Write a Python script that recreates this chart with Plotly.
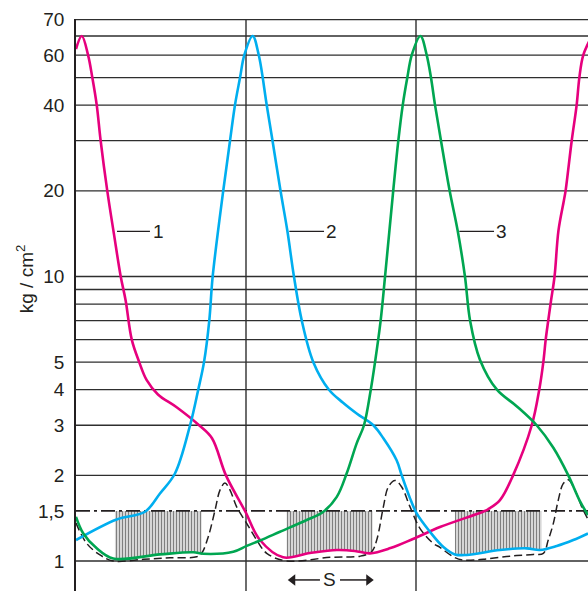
import math
import plotly.graph_objects as go

# ---------------- data (x in cycle units, y in kg/cm2) ----------------
curve1_x = [0.000, 0.034, 0.071, 0.096, 0.122, 0.145, 0.184, 0.224, 0.263, 0.292,
            0.328, 0.372, 0.416, 0.482, 0.592, 0.724, 0.800, 0.882, 0.994, 1.082, 1.218, 1.376,
            1.535, 1.640, 1.729, 1.850, 1.982, 2.141, 2.394, 2.424, 2.494, 2.571, 2.681, 2.725,
            2.749, 2.763, 2.778, 2.794, 2.815, 2.838, 2.870, 2.880, 2.916, 2.945, 2.961, 2.984,
            3.035]
curve1_y = [63, 70, 60, 50, 40, 30, 20, 14, 10, 8.24,
            6.0, 5.0, 4.32, 3.85, 3.47, 3.0, 2.7, 2.0, 1.5, 1.185, 1.03, 1.067,
            1.093, 1.085, 1.064, 1.11, 1.195, 1.316, 1.49, 1.52, 1.637, 2.0, 3.0, 4.0,
            5.0, 6.0, 7.0, 8.2, 10, 14.5, 18.5, 20, 30, 40, 50, 60,
            70]

curve2_x = [0.000, 0.239, 0.406, 0.494, 0.582, 0.671, 0.719, 0.753, 0.784, 0.804, 0.866, 0.906,
            0.935, 0.965, 0.990, 1.039, 1.075, 1.122, 1.156, 1.203, 1.243,
            1.282, 1.328, 1.396, 1.488, 1.571, 1.651, 1.749, 1.808, 1.886, 1.916, 1.965, 2.004,
            2.082, 2.161, 2.229, 2.298, 2.494, 2.651, 2.729, 2.828, 2.925, 3.012]
curve2_y = [1.185, 1.40, 1.49, 1.727, 2.03, 3.0, 4.0, 5.0, 7.0, 10, 20, 30,
            40, 50, 60, 70, 60, 40, 30, 20, 14.5,
            10, 7.0, 5.0, 4.0, 3.6, 3.3, 3.0, 2.7, 2.26, 2.0, 1.66, 1.47,
            1.267, 1.12, 1.055, 1.05, 1.093, 1.108, 1.093, 1.129, 1.185, 1.25]

curve3_x = [0.000, 0.043, 0.122, 0.219, 0.494, 0.690, 0.749, 0.925, 1.004, 1.082, 1.200, 1.357,
            1.455, 1.534, 1.592, 1.651, 1.694, 1.734, 1.759, 1.792, 1.818, 1.866, 1.896, 1.922,
            1.949, 1.975, 2.026, 2.063, 2.088, 2.112, 2.147, 2.198, 2.245,
            2.288, 2.318, 2.376, 2.476, 2.592, 2.710, 2.808, 2.896, 2.965, 3.012]
curve3_y = [1.43, 1.25, 1.108, 1.02, 1.055, 1.073, 1.06, 1.078, 1.13, 1.18, 1.267, 1.393,
            1.49, 1.68, 2.03, 2.59, 3.0, 4.0, 5.0, 7.0, 10, 20, 30, 40,
            50, 60, 70, 60, 50, 40, 30, 20, 14.5,
            10, 7.0, 5.1, 4.0, 3.5, 3.0, 2.5, 2.0, 1.62, 1.45]

dashed_x = [0.000, 0.063, 0.141, 0.219, 0.396, 0.553, 0.710, 0.739, 0.778, 0.818, 0.847, 0.876,
            0.906, 0.945, 1.004, 1.063, 1.122, 1.239, 1.494, 1.671, 1.739, 1.769, 1.808, 1.837,
            1.876, 1.916, 1.965, 2.024, 2.102, 2.141, 2.219, 2.278, 2.396, 2.553, 2.690, 2.749,
            2.778, 2.808, 2.837, 2.866, 2.896, 2.935, 2.975, 3.004, 3.012]
dashed_y = [1.36, 1.153, 1.05, 1.0, 1.014, 1.027, 1.035, 1.064, 1.217, 1.51, 1.775, 1.88,
            1.775, 1.55, 1.356, 1.185, 1.064, 1.0, 1.03, 1.04, 1.078, 1.185, 1.55, 1.82,
            1.92, 1.82, 1.55, 1.3, 1.153, 1.117, 1.035, 1.008, 1.014, 1.04, 1.055, 1.064,
            1.185, 1.356, 1.637, 1.87, 1.93, 1.775, 1.55, 1.43, 1.40]

hatch1_x = [0.229, 0.396, 0.553, 0.690, 0.739]
hatch1_bottom = [1.016, 1.04, 1.06, 1.073, 1.062]
hatch2_x = [1.239, 1.376, 1.535, 1.680, 1.745]
hatch2_bottom = [1.03, 1.067, 1.093, 1.075, 1.062]
hatch3_x = [2.229, 2.298, 2.494, 2.651, 2.739]
hatch3_bottom = [1.055, 1.05, 1.093, 1.108, 1.093]
hatch_top = 1.5

level_line = 1.5
grid_vals = [1, 2, 3, 4, 5, 6, 7, 8, 9, 10, 20, 30, 40, 50, 60, 70, 80]
cycle_lines = [1, 2]
tick_vals = [1, 1.5, 2, 3, 4, 5, 10, 20, 40, 60, 80]
tick_text = ["1", "1,5", "2", "3", "4", "5", "10", "20", "40", "60", "70"]

labels = ["1", "2", "3"]
label_line_x0 = [0.241, 1.255, 2.255]
label_line_x1 = [0.435, 1.459, 2.459]
label_text_x = [0.488, 1.504, 2.503]
label_y = 14.4

s_text_x = 1.494
s_left = (1.435, 1.275)   # tail, head
s_right = (1.553, 1.722)
s_y = 0.858

X_MAX = 3.0118
Y_RANGE = [-0.1054, 1.9049]

MAGENTA = "#e6007e"
BLUE = "#00aeef"
GREEN = "#00a651"
INK = "#231f20"
GRID = "#2e2e2e"
FONT = "Liberation Sans, Arial, Helvetica, sans-serif"

fig = go.Figure()

# horizontal grid lines
gx, gy = [], []
for v in grid_vals:
    gx += [0, X_MAX, None]
    gy += [v, v, None]
fig.add_trace(go.Scatter(x=gx, y=gy, mode="lines", line=dict(color=GRID, width=1.3),
                         hoverinfo="skip", showlegend=False))
# vertical cycle lines
vx, vy = [], []
for c in cycle_lines:
    vx += [c, c, None]
    vy += [10 ** Y_RANGE[0], 10 ** Y_RANGE[1], None]
fig.add_trace(go.Scatter(x=vx, y=vy, mode="lines", line=dict(color=GRID, width=1.4),
                         hoverinfo="skip", showlegend=False))

# hatched areas
for hx, hb in [(hatch1_x, hatch1_bottom), (hatch2_x, hatch2_bottom), (hatch3_x, hatch3_bottom)]:
    px = list(hx) + [hx[-1], hx[0], hx[0]]
    py = list(hb) + [hatch_top, hatch_top, hb[0]]
    fig.add_trace(go.Scatter(x=px, y=py, mode="lines", fill="toself",
                             fillcolor="rgba(0,0,0,0)",
                             fillpattern=dict(shape="|", size=3, solidity=0.55,
                                              fgcolor="#000000", bgcolor="rgba(255,255,255,0)"),
                             line=dict(width=0, color="rgba(0,0,0,0)"),
                             hoverinfo="skip", showlegend=False))

# dash-dot level line
fig.add_trace(go.Scatter(x=[0, X_MAX], y=[level_line, level_line], mode="lines",
                         line=dict(color=INK, width=1.8, dash="14px,4px,3px,4px"),
                         hoverinfo="skip", showlegend=False))

# dashed curve
fig.add_trace(go.Scatter(x=dashed_x, y=dashed_y, mode="lines",
                         line=dict(color=INK, width=1.5, dash="8px,4px", shape="spline", smoothing=1.0),
                         hoverinfo="skip", showlegend=False))

for cx, cy, col in [(curve1_x, curve1_y, MAGENTA), (curve2_x, curve2_y, BLUE), (curve3_x, curve3_y, GREEN)]:
    fig.add_trace(go.Scatter(x=cx, y=cy, mode="lines",
                             line=dict(color=col, width=2.6, shape="spline", smoothing=1.0),
                             hoverinfo="skip", showlegend=False))

# label leader lines
lx, ly = [], []
for a, b in zip(label_line_x0, label_line_x1):
    lx += [a, b, None]
    ly += [label_y, label_y, None]
fig.add_trace(go.Scatter(x=lx, y=ly, mode="lines", line=dict(color=INK, width=1.3),
                         hoverinfo="skip", showlegend=False))

# S arrows
for (tail, head), sym in [(s_left, "triangle-left"), (s_right, "triangle-right")]:
    fig.add_trace(go.Scatter(x=[tail, head], y=[s_y, s_y], mode="lines",
                             line=dict(color=INK, width=1.5), cliponaxis=False,
                             hoverinfo="skip", showlegend=False))
    fig.add_trace(go.Scatter(x=[head], y=[s_y], mode="markers", cliponaxis=False,
                             marker=dict(symbol=sym, size=10, color=INK),
                             hoverinfo="skip", showlegend=False))

annotations = []
for t, x in zip(labels, label_text_x):
    annotations.append(dict(x=x, y=math.log10(label_y), xref="x", yref="y", text=t,
                            xanchor="center", yanchor="middle",
                            showarrow=False, font=dict(family=FONT, size=19, color=INK)))
annotations.append(dict(x=s_text_x, y=math.log10(s_y), xref="x", yref="y", text="S",
                        xanchor="center", yanchor="middle",
                        showarrow=False, font=dict(family=FONT, size=19, color=INK)))
annotations.append(dict(x=-0.0996, y=0.545, xref="paper", yref="paper",
                        xanchor="center", yanchor="middle",
                        text="kg / cm<sup>2</sup>", textangle=-90, showarrow=False,
                        font=dict(family=FONT, size=19, color=INK)))

fig.update_layout(
    width=588, height=591,
    margin=dict(l=76, r=0, t=19, b=0),
    paper_bgcolor="white", plot_bgcolor="white",
    showlegend=False,
    annotations=annotations,
    font=dict(family=FONT, color=INK),
    xaxis=dict(range=[0, X_MAX], showgrid=False, zeroline=False, showticklabels=False,
               ticks="", showline=False),
    yaxis=dict(type="log", range=Y_RANGE, showgrid=False, zeroline=False,
               tickvals=tick_vals, ticktext=tick_text, ticks="",
               ticklabelstandoff=6,
               tickfont=dict(family=FONT, size=19, color=INK),
               showline=True, linecolor=INK, linewidth=1.6),
)

# remove the page's default body margin so the figure fills the window exactly
fig.write_html("out.html", config={"displayModeBar": False},
               post_script="document.body.style.margin='0';document.body.style.overflow='hidden';")
